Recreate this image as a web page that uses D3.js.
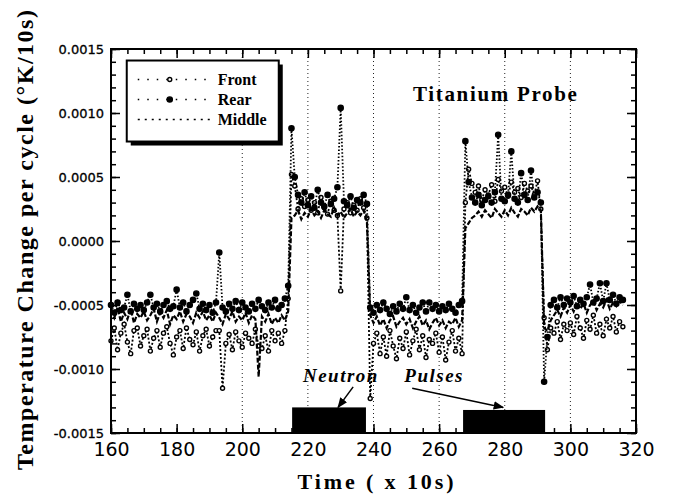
<!DOCTYPE html>
<html>
<head>
<meta charset="utf-8">
<script src="https://cdn.jsdelivr.net/npm/d3@7"></script>
<style>
  body { margin: 0; background: #fff; }
  svg { display: block; }
</style>
</head>
<body>
<div id="chart"></div>
<script>
// sample times (x 10s), one reading per cycle
var timeStart = 160, timeEnd = 316;

// temperature change per cycle in units of 1e-4 K/10s
var unit = 1e-4;
var front = [
  -7.8,-6.8,-8.5,-7.2,-6.5,-7.9,-8.8,-7.0,-6.8,-8.2,
  -7.4,-6.9,-8.6,-7.6,-7.0,-8.3,-7.2,-6.7,-8.0,-8.9,
  -7.5,-7.0,-8.4,-6.8,-7.7,-8.1,-7.1,-8.6,-7.4,-6.9,
  -8.2,-7.5,-7.0,-7.0,-11.5,-8.0,-7.3,-8.5,-7.1,-7.8,
  -8.3,-7.2,-7.6,-8.0,-6.9,-8.2,-8.4,-7.4,-8.6,-7.0,
  -7.8,-7.2,-8.0,-7.0,-4.5,5.2,4.3,2.5,3.3,2.7,
  3.2,2.4,3.0,2.2,3.4,2.6,2.1,3.1,2.4,2.0,
  -3.9,2.5,3.0,2.2,2.8,2.4,3.3,2.6,1.8,-12.3,
  -8.0,-7.2,-8.8,-7.5,-9.0,-7.0,-8.2,-9.2,-7.6,-8.4,
  -7.1,-8.9,-7.8,-6.9,-8.5,-7.4,-9.1,-7.7,-8.0,-7.2,
  -8.7,-7.5,-9.3,-7.9,-7.0,-8.6,-7.6,-8.8,3.0,5.6,
  4.5,3.8,4.3,3.2,4.0,3.6,4.4,3.1,4.8,3.9,
  4.2,3.5,4.6,3.8,4.1,3.4,4.5,3.9,4.3,3.6,
  4.7,2.5,-6.0,-8.5,-6.8,-7.2,-6.3,-7.7,-6.5,-7.0,
  -6.4,-7.3,-5.9,-6.8,-7.6,-6.2,-6.9,-5.8,-7.2,-6.5,
  -7.4,-6.1,-6.8,-5.9,-7.1,-6.3,-6.7
];
var rear = [
  -5.0,-5.6,-4.8,-5.4,-5.2,-4.2,-5.5,-4.9,-5.3,-5.0,
  -5.4,-4.8,-4.2,-5.2,-4.9,-5.5,-5.0,-4.7,-5.3,-5.1,
  -3.8,-5.2,-4.8,-5.5,-5.0,-4.6,-4.1,-5.3,-4.9,-5.4,
  -5.0,-5.6,-4.8,-0.9,-5.2,-5.5,-4.9,-5.3,-4.7,-5.4,
  -4.8,-5.2,-5.5,-4.9,-5.3,-4.6,-5.1,-5.4,-4.8,-5.2,
  -4.6,-5.3,-5.0,-4.5,-3.5,8.8,5.0,3.6,3.0,3.8,
  2.8,3.5,2.6,4.0,3.0,2.7,3.6,2.9,3.3,4.2,
  10.4,3.1,2.8,3.5,2.6,3.2,3.0,3.6,2.9,-5.2,
  -5.6,-5.0,-5.4,-4.8,-5.3,-5.7,-5.1,-5.5,-4.9,-5.3,
  -4.4,-5.4,-5.0,-5.6,-5.2,-4.8,-5.5,-4.8,-5.3,-5.0,
  -5.5,-5.1,-5.4,-4.9,-5.3,-5.6,-5.0,-4.7,7.8,4.6,
  3.4,3.0,3.6,2.8,3.2,3.5,3.0,3.8,8.3,3.3,
  3.1,3.6,7.0,3.3,3.0,5.3,3.6,3.2,5.5,3.4,
  3.8,3.0,-11.0,-7.5,-5.0,-4.6,-5.2,-4.4,-5.0,-4.5,
  -4.8,-4.3,-5.1,-4.6,-4.9,-4.4,-3.4,-4.8,-4.5,-3.3,
  -4.7,-3.3,-4.6,-4.2,-4.9,-4.4,-4.6
];
var middle = [
  -5.4,-6.0,-5.2,-6.3,-5.6,-6.1,-5.3,-6.4,-5.7,-6.0,
  -5.5,-6.2,-5.8,-5.3,-6.3,-5.6,-6.0,-5.4,-6.5,-5.8,
  -6.1,-5.5,-6.3,-5.7,-5.9,-6.4,-5.6,-6.0,-5.5,-6.2,
  -5.8,-6.3,-5.6,-6.0,-6.5,-5.7,-6.1,-5.5,-6.3,-5.9,
  -6.2,-5.6,-6.4,-5.8,-6.1,-10.6,-5.9,-6.3,-5.7,-6.5,
  -6.0,-6.4,-5.8,-6.2,-5.5,1.8,2.0,2.4,1.7,2.2,
  1.9,2.5,2.0,2.3,1.8,2.4,2.1,1.9,2.6,2.0,
  2.3,1.8,2.2,2.5,1.9,2.3,2.0,2.4,1.5,-5.8,
  -6.4,-5.9,-6.6,-6.1,-6.8,-6.2,-5.9,-6.7,-6.3,-6.0,
  -6.5,-6.1,-6.8,-6.3,-5.9,-6.6,-6.2,-6.9,-6.4,-6.0,
  -6.6,-6.2,-6.8,-6.3,-6.5,-6.0,-6.7,-6.2,1.0,1.4,
  1.8,2.0,2.3,1.9,2.4,2.1,1.8,2.5,2.2,1.9,
  2.4,2.0,2.6,2.2,1.9,2.5,2.3,2.0,2.6,2.3,
  2.7,2.4,-6.8,-7.0,-6.2,-5.8,-5.4,-5.9,-5.2,-5.6,
  -5.0,-5.5,-4.8,-5.3,-4.9,-5.6,-5.0,-4.7,-5.4,-4.9,
  -5.2,-4.6,-5.3,-4.8,-5.1,-4.7,-5.0
];

// neutron pulse bars (time range and top of the bar)
var pulseStart = [215.2, 267.3];
var pulseEnd = [237.7, 292.3];
var pulseTop = [-0.00130, -0.00132];

// axis ticks
var xTicks = [160, 180, 200, 220, 240, 260, 280, 300, 320];
var yTicks = [-0.0015, -0.0010, -0.0005, 0.0000, 0.0005, 0.0010, 0.0015];
var gridTimes = [200, 220, 240, 260, 280, 300];

(function() {
  'use strict';

  var W = 676, H = 498;
  var margin = {top: 49, right: 40, bottom: 65, left: 111};
  var width = W - margin.left - margin.right;
  var height = H - margin.top - margin.bottom;

  var svg = d3.select("#chart").append("svg")
    .attr("width", W)
    .attr("height", H);

  var g = svg.append("g")
    .attr("transform", "translate(" + margin.left + "," + margin.top + ")");

  var x = d3.scaleLinear().domain([160, 320]).range([0, width]);
  var y = d3.scaleLinear().domain([-0.0015, 0.0015]).range([height, 0]);

  var times = d3.range(timeStart, timeEnd + 1);
  function toPoints(arr) {
    return arr.map(function(v, i) { return {t: times[i], v: v * unit}; });
  }

  // dotted vertical grid
  g.selectAll(".grid")
    .data(gridTimes)
    .join("line")
      .attr("x1", d => x(d)).attr("x2", d => x(d))
      .attr("y1", 0).attr("y2", height)
      .attr("stroke", "#222")
      .attr("stroke-width", 1)
      .attr("stroke-dasharray", "1,3");

  // neutron pulses
  var pulses = pulseStart.map(function(s, i) { return {s: s, e: pulseEnd[i], top: pulseTop[i]}; });
  g.selectAll(".pulse")
    .data(pulses)
    .join("rect")
      .attr("x", d => x(d.s))
      .attr("y", d => y(d.top))
      .attr("width", d => x(d.e) - x(d.s))
      .attr("height", d => y(-0.0015) - y(d.top))
      .attr("fill", "#000");

  var line = d3.line().x(d => x(d.t)).y(d => y(d.v));

  var series = [
    {name: "Front", pts: toPoints(front), dash: "2,2", marker: "open"},
    {name: "Rear", pts: toPoints(rear), dash: "1.5,2", marker: "filled"},
    {name: "Middle", pts: toPoints(middle), dash: "5,2", marker: null}
  ];

  series.forEach(function(s) {
    g.append("path")
      .datum(s.pts)
      .attr("d", line)
      .attr("fill", "none")
      .attr("stroke", "#000")
      .attr("stroke-width", s.marker ? 1.8 : 2.2)
      .attr("stroke-dasharray", s.dash);
    if (s.marker) {
      g.append("g").selectAll("circle")
        .data(s.pts)
        .join("circle")
          .attr("cx", d => x(d.t))
          .attr("cy", d => y(d.v))
          .attr("r", s.marker == "open" ? 2 : 2.6)
          .attr("fill", s.marker == "open" ? "#fff" : "#000")
          .attr("stroke", "#000")
          .attr("stroke-width", 1.4);
    }
  });

  // axes, ticks pointing inward on all four sides
  var minorX = d3.range(160, 321, 5);
  var minorY = d3.range(-15, 16).map(d => d * unit);

  function styleAxis(sel) {
    sel.select(".domain").remove();
    sel.selectAll("line").attr("stroke", "#000").attr("stroke-width", 1.5);
  }

  g.append("g").attr("transform", "translate(0," + height + ")")
    .call(d3.axisBottom(x).tickValues(minorX).tickSize(-5).tickFormat(""))
    .call(styleAxis);
  g.append("g").attr("transform", "translate(0," + height + ")")
    .call(d3.axisBottom(x).tickValues(xTicks).tickSize(-9).tickPadding(10))
    .call(styleAxis)
    .selectAll("text")
      .attr("font-family", "DejaVu Sans")
      .attr("font-size", "19px")
      .attr("fill", "#000");

  g.append("g")
    .call(d3.axisTop(x).tickValues(minorX).tickSize(-5).tickFormat(""))
    .call(styleAxis);
  g.append("g")
    .call(d3.axisTop(x).tickValues(xTicks).tickSize(-9).tickFormat(""))
    .call(styleAxis);

  g.append("g")
    .call(d3.axisLeft(y).tickValues(minorY).tickSize(-5).tickFormat(""))
    .call(styleAxis);
  g.append("g")
    .call(d3.axisLeft(y).tickValues(yTicks).tickSize(-9).tickPadding(7)
      .tickFormat(d => d.toFixed(4)))
    .call(styleAxis)
    .selectAll("text")
      .attr("font-family", "DejaVu Sans")
      .attr("font-size", "13px")
      .attr("fill", "#000")
      .attr("stroke", "#000")
      .attr("stroke-width", 0.3);

  g.append("g").attr("transform", "translate(" + width + ",0)")
    .call(d3.axisRight(y).tickValues(minorY).tickSize(-5).tickFormat(""))
    .call(styleAxis);
  g.append("g").attr("transform", "translate(" + width + ",0)")
    .call(d3.axisRight(y).tickValues(yTicks).tickSize(-9).tickFormat(""))
    .call(styleAxis);

  // frame
  g.append("rect")
    .attr("width", width).attr("height", height)
    .attr("fill", "none")
    .attr("stroke", "#000")
    .attr("stroke-width", 2);

  // legend box with drop shadow
  var lg = g.append("g").attr("transform", "translate(" + x(164.8) + "," + y(0.00141) + ")");
  lg.append("rect").attr("x", 4).attr("y", 4).attr("width", 152).attr("height", 81).attr("fill", "#000");
  lg.append("rect").attr("width", 152).attr("height", 81)
    .attr("fill", "#fff").attr("stroke", "#000").attr("stroke-width", 2);

  series.forEach(function(s, i) {
    var ly = 19 + i * 20;
    lg.append("line")
      .attr("x1", 11).attr("x2", 84)
      .attr("y1", ly).attr("y2", ly)
      .attr("stroke", "#000")
      .attr("stroke-width", 1.6)
      .attr("stroke-dasharray", s.marker ? "1.5,8" : "2,5");
    if (s.marker) {
      lg.append("circle")
        .attr("cx", 43).attr("cy", ly)
        .attr("r", s.marker == "open" ? 2 : 2.6)
        .attr("fill", s.marker == "open" ? "#fff" : "#000")
        .attr("stroke", "#000").attr("stroke-width", 1.4);
    }
    lg.append("text")
      .attr("x", 91).attr("y", ly + 5)
      .attr("font-family", "Liberation Serif")
      .attr("font-weight", "bold")
      .attr("font-size", "16px")
      .text(s.name);
  });

  // title inside plot
  g.append("text")
    .attr("x", x(252)).attr("y", y(0.00109))
    .attr("font-family", "Liberation Serif")
    .attr("font-weight", "bold")
    .attr("font-size", "21px")
    .attr("textLength", 164)
    .text("Titanium  Probe");

  // neutron pulse annotation
  var noteFont = function(sel) {
    sel.attr("font-family", "Liberation Serif")
      .attr("font-weight", "bold")
      .attr("font-style", "italic")
      .attr("font-size", "19px")
      .attr("letter-spacing", "1.5px");
  };
  g.append("text")
    .attr("x", x(218.5)).attr("y", y(-0.00110))
    .call(noteFont)
    .text("Neutron");
  g.append("text")
    .attr("x", x(249.4)).attr("y", y(-0.00110))
    .call(noteFont)
    .text("Pulses");

  var arrows = [
    {x1: 233.8, y1: -0.00114, x2: 229.2, y2: -0.00130},
    {x1: 251.8, y1: -0.00115, x2: 279.5, y2: -0.00130}
  ];
  svg.append("defs").append("marker")
    .attr("id", "head")
    .attr("viewBox", "0 0 10 10")
    .attr("refX", 9).attr("refY", 5)
    .attr("markerWidth", 7).attr("markerHeight", 7)
    .attr("orient", "auto")
    .append("path").attr("d", "M0,1L10,5L0,9z").attr("fill", "#000");
  g.selectAll(".arrow")
    .data(arrows)
    .join("line")
      .attr("x1", d => x(d.x1)).attr("y1", d => y(d.y1))
      .attr("x2", d => x(d.x2)).attr("y2", d => y(d.y2))
      .attr("stroke", "#000")
      .attr("stroke-width", 1.5)
      .attr("marker-end", "url(#head)");

  // axis titles
  svg.append("text")
    .attr("x", margin.left + width / 2 + 2)
    .attr("y", 489)
    .attr("text-anchor", "middle")
    .attr("font-family", "Liberation Serif")
    .attr("font-weight", "bold")
    .attr("font-size", "22px")
    .attr("textLength", 156)
    .text("Time ( x 10s)");

  svg.append("text")
    .attr("transform", "translate(33,240) rotate(-90)")
    .attr("text-anchor", "middle")
    .attr("font-family", "Liberation Serif")
    .attr("font-weight", "bold")
    .attr("font-size", "24px")
    .attr("textLength", 460)
    .text("Temperature Change per cycle (\u00B0K/10s)");
})();
</script>
</body>
</html>
